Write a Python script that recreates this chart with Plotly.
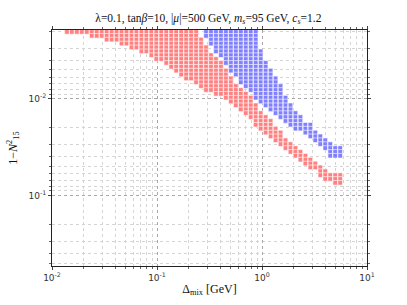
import plotly.graph_objects as go

# column positions of the scan grid (Delta_mix in GeV)
col_x = [0.01387, 0.01546, 0.01724, 0.01923, 0.02144, 0.02391, 0.02666, 0.02973,
         0.03316, 0.03697, 0.04123, 0.04597, 0.05127, 0.05718, 0.06375, 0.07109,
         0.07927, 0.08840, 0.09858, 0.1099, 0.1226, 0.1367, 0.1524, 0.1700,
         0.1895, 0.2113, 0.2357, 0.2628, 0.2931, 0.3268, 0.3644, 0.4064,
         0.4531, 0.5053, 0.5634, 0.6283, 0.7006, 0.7812, 0.8712, 0.9716,
         1.083, 1.208, 1.347, 1.502, 1.675, 1.868, 2.083, 2.323,
         2.591, 2.889, 3.221, 3.592, 4.006, 4.467, 4.981, 5.555]

# row positions of the scan grid (1 - N15^2)
row_y = [0.00204, 0.00224, 0.00245, 0.00269, 0.00295, 0.00324, 0.00355, 0.00389,
         0.00427, 0.00468, 0.00513, 0.00562, 0.00617, 0.00676, 0.00741, 0.00813,
         0.00891, 0.00977, 0.0107, 0.0117, 0.0129, 0.0141, 0.0155, 0.0170,
         0.0186, 0.0204, 0.0224, 0.0245, 0.0269, 0.0295, 0.0324, 0.0355,
         0.0389, 0.0427, 0.0468, 0.0513, 0.0562, 0.0617, 0.0676, 0.0741, 0.0813]

# red region: first and last row index in each column
red_top = [0] * 27 + [2, 4, 6, 7, 8, 10, 12, 14, 15, 16, 17, 19, 21, 22, 23, 25,
                      26, 28, 29, 30, 31, 32, 33, 34, 35, 36, 37, 37, 37]
red_bot = [0, 0, 0, 0, 0, 1, 1, 1, 2, 2, 2, 3, 3, 4, 4, 5, 5, 6, 7, 7, 8, 9, 10,
           11, 12, 12, 13, 14, 15, 15, 16, 16, 17, 18, 19, 20, 21, 22, 24, 25,
           26, 27, 28, 29, 30, 31, 32, 33, 34, 35, 35, 37, 38, 38, 39, 39]

# blue region: starts at column 28
blue_first_col = 28
blue_top = [0, 0, 0, 0, 0, 0, 0, 0, 0, 0, 0, 5, 8, 10, 12, 14, 17, 19, 21, 22,
            24, 24, 26, 27, 28, 29, 30, 30]
blue_bot = [1, 3, 5, 6, 8, 10, 11, 13, 14, 15, 17, 18, 19, 20, 21, 22, 23, 24,
            25, 25, 26, 27, 28, 29, 30, 32, 32, 32]


def cells(xs_col, tops, bots):
    xs, ys = [], []
    for x, t, b in zip(xs_col, tops, bots):
        for j in range(t, b + 1):
            xs.append(x)
            ys.append(row_y[j])
    return xs, ys


rx, ry = cells(col_x, red_top, red_bot)
bx, by = cells(col_x[blue_first_col:], blue_top, blue_bot)

fig = go.Figure()
for xs, ys, c in [(rx, ry, "#ff8080"), (bx, by, "#8080ff")]:
    fig.add_trace(go.Scatter(
        x=xs, y=ys, mode="markers", showlegend=False, hoverinfo="skip",
        marker=dict(symbol="square", size=4.6, color=c,
                    line=dict(color="white", width=0.6)),
    ))

x_major = [0.01, 0.1, 1, 10]
x_major_text = ["10<sup>-2</sup>", "10<sup>-1</sup>", "10<sup>0</sup>", "10<sup>1</sup>"]
x_minor = [m * d for d in [0.01, 0.1, 1] for m in range(2, 10)]
y_major = [0.01, 0.1]
y_major_text = ["10<sup>-2</sup>", "10<sup>-1</sup>"]
y_minor = [m * d for d in [0.001, 0.01, 0.1] for m in range(2, 10)]

tickfont = dict(family="DejaVu Sans", size=9, color="#333333")
axis_common = dict(
    showline=True, linecolor="#222222", linewidth=1, mirror="allticks",
    ticks="outside", ticklen=3, tickwidth=0.8, tickcolor="#444444",
    showgrid=True, gridcolor="#a8a8a8", gridwidth=1, griddash="dot",
    zeroline=False, tickfont=tickfont,
)

fig.update_xaxes(
    type="log", range=[-2, 1], tickmode="array", tickvals=x_major,
    ticktext=x_major_text,
    minor=dict(tickvals=x_minor, ticks="outside", ticklen=2, tickcolor="#666666",
               showgrid=True, gridcolor="#d4d4d4", griddash="dot", gridwidth=1),
    title=dict(text="Δ<sub>mix</sub> [GeV]", standoff=2,
               font=dict(family="Liberation Serif", size=12, color="#111111")),
    **axis_common,
)
fig.update_yaxes(
    type="log", range=[-0.27, -2.71], tickmode="array", tickvals=y_major,
    ticktext=y_major_text,
    minor=dict(tickvals=y_minor, ticks="outside", ticklen=2, tickcolor="#666666",
               showgrid=True, gridcolor="#d4d4d4", griddash="dot", gridwidth=1),
    title=dict(text="1−<i>N</i><sup>2</sup><sub>15</sub>", standoff=8,
               font=dict(family="Liberation Serif", size=12, color="#111111")),
    **axis_common,
)

fig.update_layout(
    width=407, height=305,
    margin=dict(l=50, r=40, t=30, b=31),
    plot_bgcolor="white", paper_bgcolor="white",
    title=dict(
        text="λ=0.1, tan<i>β</i>=10, |<i>μ</i>|=500 GeV, <i>m<sub>s</sub></i>=95 GeV, <i>c<sub>s</sub></i>=1.2",
        x=0.512, xanchor="center", y=1 - 18 / 305, yanchor="middle",
        font=dict(family="Liberation Serif", size=11.5, color="#111111"),
    ),
)

fig.write_html("out.html", config={"displayModeBar": False},
               post_script="document.body.style.margin='0';")
